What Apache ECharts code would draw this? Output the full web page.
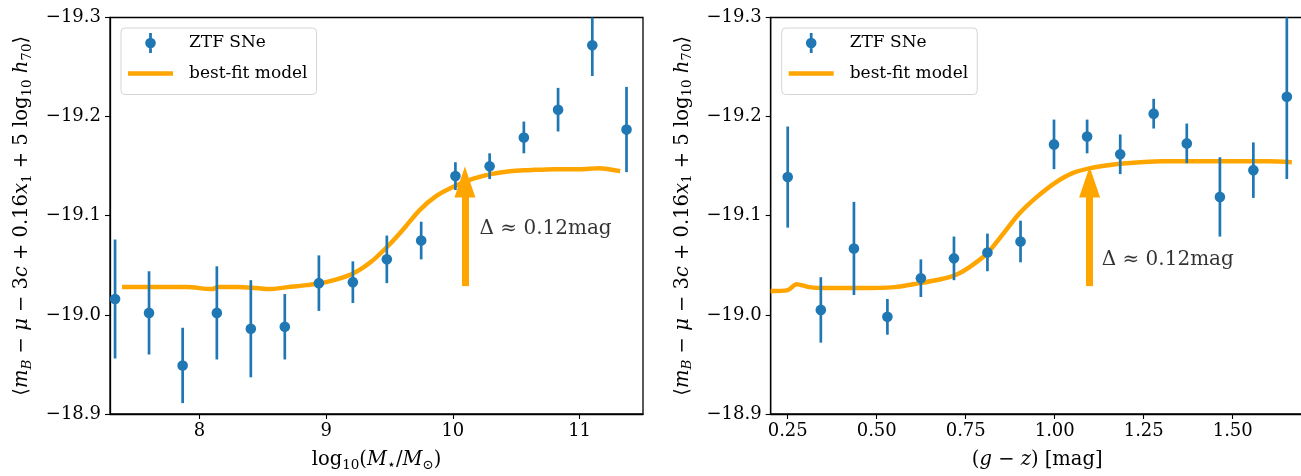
<!DOCTYPE html>
<html>
<head>
<meta charset="utf-8">
<script src="https://cdn.jsdelivr.net/npm/echarts@6.0.0/dist/echarts.min.js"></script>
<style>
  html, body { margin: 0; padding: 0; background: #fff; }
  #chart { width: 1301px; height: 476px; }
</style>
</head>
<body>
<div id="chart"></div>
<script>
const FONT = "DejaVu Serif";
const BLUE = "#1f77b4";
const ORANGE = "#ffa500";

// left panel: host stellar mass bins
const massX = [7.335, 7.603, 7.868, 8.138, 8.406, 8.674, 8.943, 9.211, 9.479, 9.750, 10.02, 10.29, 10.56, 10.83, 11.10, 11.37];
const massMean = [-19.016, -19.002, -18.949, -19.002, -18.986, -18.988, -19.032, -19.033, -19.056, -19.075, -19.140, -19.150, -19.179, -19.207, -19.272, -19.187];
const massErr = [0.060, 0.042, 0.038, 0.047, 0.049, 0.033, 0.028, 0.021, 0.024, 0.019, 0.014, 0.013, 0.016, 0.022, 0.031, 0.043];
const massModelX = [7.39, 7.6, 7.9, 8.1, 8.15, 8.3, 8.45, 8.55, 8.7, 8.85, 9.0, 9.2, 9.35, 9.5, 9.62, 9.74, 9.87, 10.0, 10.15, 10.3, 10.45, 10.6, 10.8, 11.0, 11.15, 11.32];
const massModelY = [-19.028, -19.028, -19.028, -19.026, -19.028, -19.028, -19.027, -19.026, -19.028, -19.030, -19.033, -19.041, -19.053, -19.071, -19.088, -19.106, -19.120, -19.129, -19.137, -19.142, -19.145, -19.146, -19.147, -19.147, -19.148, -19.145];
const massTicks = [8, 9, 10, 11];
const massArrow = [10.095, -19.029, -19.134]; // x, tail, middle of head
const massNote = [10.21, -19.087];

// right panel: host colour bins
const colorX = [0.250, 0.343, 0.436, 0.530, 0.624, 0.717, 0.811, 0.904, 0.998, 1.091, 1.184, 1.278, 1.371, 1.464, 1.558, 1.652];
const colorMean = [-19.139, -19.005, -19.067, -18.998, -19.037, -19.057, -19.063, -19.074, -19.172, -19.180, -19.162, -19.203, -19.173, -19.119, -19.146, -19.220];
const colorErr = [0.051, 0.033, 0.047, 0.018, 0.019, 0.022, 0.019, 0.021, 0.025, 0.017, 0.020, 0.015, 0.020, 0.040, 0.028, 0.083];
const colorModelX = [0.202, 0.25, 0.275, 0.31, 0.35, 0.45, 0.55, 0.62, 0.68, 0.72, 0.76, 0.81, 0.86, 0.90, 0.95, 1.00, 1.05, 1.10, 1.15, 1.20, 1.30, 1.40, 1.50, 1.60, 1.666];
const colorModelY = [-19.024, -19.025, -19.031, -19.028, -19.027, -19.027, -19.028, -19.032, -19.036, -19.040, -19.048, -19.062, -19.084, -19.102, -19.119, -19.133, -19.143, -19.148, -19.151, -19.153, -19.155, -19.155, -19.155, -19.155, -19.154];
const colorTicks = [0.25, 0.5, 0.75, 1.0, 1.25, 1.5];
const colorArrow = [1.098, -19.029, -19.134];
const colorNote = [1.132, -19.056];

const yTicks = [-19.3, -19.2, -19.1, -19.0, -18.9];

const ERR_ICON = "path://M8.6,0L11.4,0L11.4,20L8.6,20Z M4.7,10A5.3,5.3 0 1,1 15.3,10A5.3,5.3 0 1,1 4.7,10Z";
const LINE_ICON = "path://M0,7.75L45,7.75L45,12.25L0,12.25Z M0,0L0,0.01L0.01,0Z M0,20L0,19.99L0.01,20Z";

const rich = {
  t: { fontFamily: FONT, fontSize: 19.5, color: "#000", lineHeight: 24 },
  i: { fontFamily: FONT, fontSize: 19.5, color: "#000", fontStyle: "italic", lineHeight: 24 },
  s: { fontFamily: FONT, fontSize: 13.5, color: "#000", lineHeight: 13, verticalAlign: "bottom" },
  si: { fontFamily: FONT, fontSize: 13.5, color: "#000", fontStyle: "italic", lineHeight: 13, verticalAlign: "bottom" },
};

const yName = "{t|⟨}{i|m}{si|B}{t| − }{i|μ}{t| − 3}{i|c}{t| + 0.16}{i|x}{s|1}{t| + 5 log}{s|10}{t| }{i|h}{s|70}{t|⟩}";
const massName = "{t|log}{s|10}{t|(}{i|M}{s|⋆}{t|/}{i|M}{s|⊙}{t|)}";
const colorName = "{t|(}{i|g}{t| − }{i|z}{t|) [mag]}";

function renderErrorBar(params, api) {
  const x = api.value(0), y = api.value(1), e = api.value(2);
  const c = api.coord([x, y]);
  const a = api.coord([x, y - e]);
  const b = api.coord([x, y + e]);
  const cs = params.coordSys;
  const top = cs.y, bottom = cs.y + cs.height;
  const y1 = Math.max(Math.min(a[1], b[1]), top);
  const y2 = Math.min(Math.max(a[1], b[1]), bottom);
  return {
    type: "group",
    children: [
      { type: "line", shape: { x1: c[0], y1: y1, x2: c[0], y2: y2 }, style: { stroke: BLUE, lineWidth: 2.7 } },
      { type: "circle", shape: { cx: c[0], cy: c[1], r: 5.3 }, style: { fill: BLUE } },
    ],
  };
}

function xAxisFor(idx, min, max, ticks, fmt, name) {
  return {
    type: "value", gridIndex: idx, min: min, max: max,
    axisLine: { show: true, onZero: false, lineStyle: { color: "#000", width: 1.3 } },
    axisTick: { show: true, customValues: ticks, length: 5, lineStyle: { color: "#000", width: 1.1 } },
    axisLabel: { customValues: ticks, formatter: fmt, margin: 8, fontFamily: FONT, fontSize: 18, color: "#000" },
    splitLine: { show: false },
    name: name, nameLocation: "middle", nameGap: 34,
    nameTextStyle: { fontFamily: FONT, fontSize: 19, color: "#000", rich: rich },
  };
}

function yAxisFor(idx) {
  return {
    type: "value", gridIndex: idx, min: -19.3, max: -18.9, inverse: true,
    axisLine: { show: true, lineStyle: { color: "#000", width: 1.3 } },
    axisTick: { show: true, customValues: yTicks, length: 5, lineStyle: { color: "#000", width: 1.1 } },
    axisLabel: { customValues: yTicks, formatter: (v) => "−" + Math.abs(v).toFixed(1), margin: 9, fontFamily: FONT, fontSize: 18, color: "#000" },
    splitLine: { show: false },
    name: yName, nameLocation: "middle", nameRotate: 90, nameGap: 76,
    nameTextStyle: { fontFamily: FONT, fontSize: 19, color: "#000", rich: rich },
  };
}

function legendFor(left) {
  return {
    left: left, top: 28, orient: "vertical",
    data: [{ name: "ZTF SNe", icon: ERR_ICON }, { name: "best-fit model", icon: LINE_ICON }],
    itemWidth: 45, itemHeight: 20, itemGap: 10.5,
    padding: [5, 9, 11, 7],
    backgroundColor: "rgba(255,255,255,0.8)",
    borderColor: "#d5d5d5", borderWidth: 1, borderRadius: 4,
    textStyle: { fontFamily: FONT, fontSize: 17, color: "#000", padding: [0, 0, 0, 11] },
    selectedMode: false,
  };
}

function panelSeries(idx, xs, means, errs, modelX, modelY, arrow, note) {
  return [
    {
      name: "best-fit model", type: "line", xAxisIndex: idx, yAxisIndex: idx,
      data: modelX.map((x, i) => [x, modelY[i]]),
      showSymbol: false, symbol: "none", smooth: 0.3,
      color: ORANGE, itemStyle: { color: ORANGE }, lineStyle: { color: ORANGE, width: 4.5 },
      z: 2,
      markLine: {
        silent: true, animation: false,
        symbol: ["none", "triangle"], symbolSize: [21, 31],
        lineStyle: { color: ORANGE, width: 7, type: "solid" },
        itemStyle: { color: ORANGE },
        label: { show: false },
        emphasis: { disabled: true },
        data: [[{ coord: [arrow[0], arrow[1]] }, { coord: [arrow[0], arrow[2]] }]],
      },
    },
    {
      name: "ZTF SNe", type: "custom", xAxisIndex: idx, yAxisIndex: idx,
      color: BLUE, itemStyle: { color: BLUE },
      data: xs.map((x, i) => [x, means[i], errs[i]]),
      encode: { x: 0, y: 1 },
      renderItem: renderErrorBar,
      z: 3,
    },
    {
      name: "note", type: "scatter", xAxisIndex: idx, yAxisIndex: idx,
      data: [note], symbolSize: 0, silent: true,
      itemStyle: { color: "rgba(0,0,0,0)" },
      label: { show: true, position: "right", distance: 0, formatter: "Δ ≈ 0.12mag", fontFamily: FONT, fontSize: 20, color: "#000" },
    },
  ];
}

const chart = echarts.init(document.getElementById("chart"));
chart.setOption({
  animation: false,
  backgroundColor: "#fff",
  grid: [
    { left: 110, top: 17.5, width: 533, height: 396.5, show: true, borderColor: "#000", borderWidth: 1.3, outerBoundsMode: "none" },
    { left: 770.7, top: 17.5, width: 533, height: 396.5, show: true, borderColor: "#000", borderWidth: 1.3, outerBoundsMode: "none" },
  ],
  legend: [legendFor(121), legendFor(781.7)],
  xAxis: [
    xAxisFor(0, 7.295, 11.5, massTicks, (v) => String(v), massName),
    xAxisFor(1, 0.2022, 1.6994, colorTicks, (v) => v.toFixed(2), colorName),
  ],
  yAxis: [yAxisFor(0), yAxisFor(1)],
  series: [
    ...panelSeries(0, massX, massMean, massErr, massModelX, massModelY, massArrow, massNote),
    ...panelSeries(1, colorX, colorMean, colorErr, colorModelX, colorModelY, colorArrow, colorNote),
  ],
});

window.addEventListener("resize", () => chart.resize());
</script>
</body>
</html>
